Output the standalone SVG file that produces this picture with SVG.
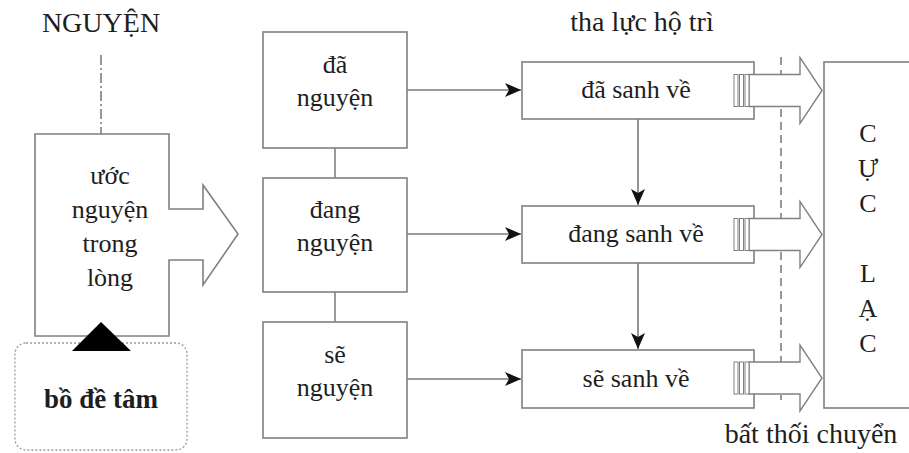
<svg xmlns="http://www.w3.org/2000/svg" width="909" height="453" viewBox="0 0 909 453">
<style>
  .t{font-family:"Liberation Serif","Times New Roman",serif;fill:#1e1e1e;text-anchor:middle}
  .box{fill:#fff;stroke:#808080;stroke-width:1.6}
  .ln{fill:none;stroke:#808080;stroke-width:1.6}
  .ar{fill:none;stroke:#7a7a7a;stroke-width:1.6}
  .hollow{fill:#fff;stroke:#808080;stroke-width:1.4}
  .stripe{fill:#fff;stroke:#808080;stroke-width:1}
</style>
<defs>
  <marker id="ah" viewBox="0 0 16 14" refX="16" refY="7" markerWidth="16" markerHeight="14" markerUnits="userSpaceOnUse" orient="auto">
    <path d="M0,0 L16,7 L0,14 L4,7 Z" fill="#111"/>
  </marker>
</defs>
<rect width="909" height="453" fill="#fff"/>

<g id="connectors">
  <line class="ln" x1="101" y1="55" x2="101" y2="134" stroke-dasharray="10 3 2 3"/>
  <line class="ln" x1="335" y1="148" x2="335" y2="178"/>
  <line class="ln" x1="335" y1="292" x2="335" y2="322"/>
  <line class="ar" x1="407" y1="90" x2="521" y2="90" marker-end="url(#ah)"/>
  <line class="ar" x1="407" y1="234" x2="521" y2="234" marker-end="url(#ah)"/>
  <line class="ar" x1="407" y1="379" x2="521" y2="379" marker-end="url(#ah)"/>
  <line class="ar" x1="638" y1="119" x2="638" y2="205" marker-end="url(#ah)"/>
  <line class="ar" x1="638" y1="263" x2="638" y2="349" marker-end="url(#ah)"/>
  <line class="ln" x1="781" y1="57" x2="781" y2="400" stroke-width="1.2" stroke-dasharray="8 5"/>
</g>

<g id="label-nguyen">
  <text class="t" x="101" y="32" font-size="28">NGUYỆN</text>
</g>

<g id="uoc-nguyen">
  <path class="box" d="M35,134 H169 V209 H203 V185 L238,234 L203,285 V260 H169 V336 H35 Z"/>
  <text class="t" x="110" y="184" font-size="26">ước</text>
  <text class="t" x="110" y="218" font-size="26">nguyện</text>
  <text class="t" x="110" y="252" font-size="26">trong</text>
  <text class="t" x="110" y="286" font-size="26">lòng</text>
</g>

<g id="bo-de-tam">
  <rect x="15" y="343" width="172" height="107" rx="11" fill="#fff" stroke="#9a9a9a" stroke-width="1.3" stroke-dasharray="2 2"/>
  <text class="t" x="101" y="408" font-size="27" font-weight="bold">bồ đề tâm</text>
</g>
<g id="triangle">
  <polygon points="101,322 131,351 72,351" fill="#000"/>
</g>

<g id="da-nguyen">
  <rect class="box" x="263" y="32" width="144" height="116"/>
  <text class="t" x="335" y="73" font-size="26">đã</text>
  <text class="t" x="335" y="106" font-size="26">nguyện</text>
</g>
<g id="dang-nguyen">
  <rect class="box" x="263" y="178" width="144" height="114"/>
  <text class="t" x="335" y="218" font-size="26">đang</text>
  <text class="t" x="335" y="251" font-size="26">nguyện</text>
</g>
<g id="se-nguyen">
  <rect class="box" x="263" y="322" width="144" height="116"/>
  <text class="t" x="335" y="363" font-size="26">sẽ</text>
  <text class="t" x="335" y="396" font-size="26">nguyện</text>
</g>

<g id="label-tha-luc">
  <text class="t" x="642" y="31" font-size="28">tha lực hộ trì</text>
</g>

<g id="da-sanh-ve">
  <rect class="box" x="522" y="62" width="232" height="57"/>
  <text class="t" x="636" y="98" font-size="26">đã sanh về</text>
</g>
<g id="dang-sanh-ve">
  <rect class="box" x="522" y="206" width="232" height="57"/>
  <text class="t" x="636" y="242" font-size="26">đang sanh về</text>
</g>
<g id="se-sanh-ve">
  <rect class="box" x="522" y="350" width="232" height="58"/>
  <text class="t" x="636" y="387" font-size="26">sẽ sanh về</text>
</g>

<g id="striped-arrow-1" transform="translate(0,90.5)">
  <path class="hollow" d="M749,-16 H800 V-33 L822,0 L800,33 V16 H749 Z"/>
  <rect class="stripe" x="734" y="-16" width="4" height="32"/>
  <rect class="stripe" x="739.5" y="-16" width="4" height="32"/>
  <rect class="stripe" x="745" y="-16" width="4" height="32"/>
</g>
<g id="striped-arrow-2" transform="translate(0,234.5)">
  <path class="hollow" d="M749,-16 H800 V-33 L822,0 L800,33 V16 H749 Z"/>
  <rect class="stripe" x="734" y="-16" width="4" height="32"/>
  <rect class="stripe" x="739.5" y="-16" width="4" height="32"/>
  <rect class="stripe" x="745" y="-16" width="4" height="32"/>
</g>
<g id="striped-arrow-3" transform="translate(0,378)">
  <path class="hollow" d="M749,-16 H800 V-33 L822,0 L800,33 V16 H749 Z"/>
  <rect class="stripe" x="734" y="-16" width="4" height="32"/>
  <rect class="stripe" x="739.5" y="-16" width="4" height="32"/>
  <rect class="stripe" x="745" y="-16" width="4" height="32"/>
</g>

<g id="cuc-lac">
  <rect class="box" x="824" y="62" width="100" height="346"/>
  <text class="t" x="868" y="142" font-size="26">C</text>
  <text class="t" x="868" y="177" font-size="26">Ự</text>
  <text class="t" x="868" y="212" font-size="26">C</text>
  <text class="t" x="868" y="282" font-size="26">L</text>
  <text class="t" x="868" y="317" font-size="26">Ạ</text>
  <text class="t" x="868" y="352" font-size="26">C</text>
</g>

<g id="label-bat-thoi">
  <text class="t" x="811" y="443" font-size="28">bất thối chuyển</text>
</g>
</svg>
